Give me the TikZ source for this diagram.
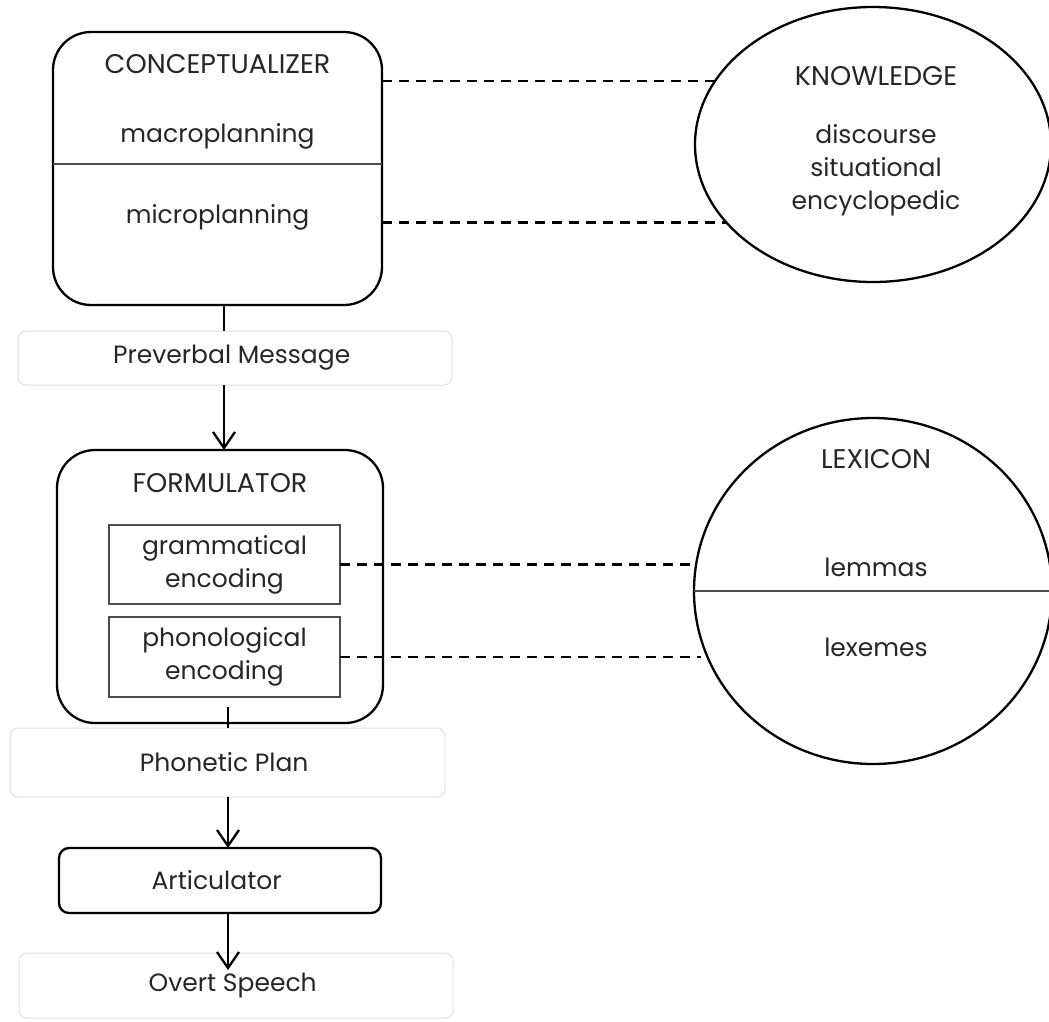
\documentclass[tikz,border=0pt]{standalone}
\usepackage{fontspec}
\setmainfont{Poppins}
\usetikzlibrary{shapes.geometric, arrows.meta}

\begin{document}
\begin{tikzpicture}[
	x=1pt, y=1pt,
	nodes = {
		align = center,
		inner sep = 0pt,
		outer sep = 0pt,
		text = black!85,
		font = \fontsize{25}{33}\selectfont
	},
	lines/.style={
		line width=2.3pt,
		>={Straight Barb[length=16pt,width=22pt]}
	},
	links/.style={
		line width=2.3pt,
		dash pattern=on 10pt off 7pt
	},
	divider/.style={
		line width=1.2pt,
		draw=black!70
	},
	stage/.style={
		rectangle,
		draw=black,
		line width=2.3pt,
		rounded corners=38pt
	},
	store/.style={
		ellipse,
		draw=black,
		line width=2.3pt
	},
	part/.style={
		rectangle,
		draw=black!70,
		line width=1.2pt
	},
	stream/.style={
		rectangle,
		draw=black!12,
		line width=1pt,
		rounded corners=8pt
	},
	label/.style={
		anchor=base
	},
	title/.style={
		anchor=base,
		font=\fontsize{27}{33}\selectfont
	}
]
	\useasboundingbox (0,0) rectangle (1049,-1021);

	\node[stage, minimum width=329, minimum height=273] (concept) at (217.5,-168.5) {};
	\node[title] (concept_title) at (217.5,-73) {CONCEPTUALIZER};
	\node[label] (macro) at (217.5,-142) {macroplanning};
	\node[label] (micro) at (217.5,-223) {microplanning};

	\node[store, minimum width=356, minimum height=275] (knowledge) at (873,-144.5) {};
	\node[title] (knowledge_title) at (876,-85) {KNOWLEDGE};
	\node (knowledge_kinds) at (876,-170) {
		discourse\\
		situational\\
		encyclopedic
	};

	\node[stream, minimum width=434, minimum height=54] (preverbal) at (235,-358) {
		Preverbal Message
	};
	%%
	\node[stage, minimum width=326, minimum height=273] (formulator) at (220,-586.5) {};
	\node[title] (formulator_title) at (220,-492) {FORMULATOR};

	\node[part, minimum width=231, minimum height=79] (gram) at (224.5,-564.5) {
		grammatical\\
		encoding
	};

	\node[part, minimum width=231, minimum height=80] (phono) at (224.5,-657) {
		phonological\\
		encoding
	};

	\node[store, minimum width=358, minimum height=346] (lexicon) at (873,-591) {};
	\node[title] (lexicon_title) at (876,-468) {LEXICON};
	\node[label] (lemmas) at (876,-576) {lemmas};
	\node[label] (lexemes) at (876,-656) {lexemes};

	\node[stream, minimum width=435, minimum height=69] (phonetic) at (227.5,-762.5) {
		Phonetic Plan
	};

	\node[stage, rounded corners=10pt, minimum width=322, minimum height=65] (artic) at (220,-880.5) {
		Articulator
	};

	\node[stream, minimum width=434, minimum height=65] (speech) at (236,-985.5) {
		Overt Speech
	};

	\draw[divider] ([yshift=4.5pt]concept.west) -- ([yshift=4.5pt]concept.east);
	\draw[divider] (lexicon.west) -- (lexicon.east);

	\draw[links] (concept.east |- knowledge.158) -- (knowledge.158);
	\draw[links] (concept.east |- knowledge.208) -- (knowledge.208);
	\draw[links] (gram.east) -- (gram.east -| lexicon.174);
	\draw[links] (phono.east) -- (phono.east -| lexicon.196);

	\draw[lines] ([xshift=6.5pt]concept.south) -- ([xshift=6.5pt]concept.south |- preverbal.north);
	\draw[lines,->] ([xshift=-11pt]preverbal.south) -- ([xshift=-11pt]preverbal.south |- formulator.north);
	\draw[lines] ([xshift=8pt,yshift=16pt]formulator.south) -- ([xshift=8pt]formulator.south |- phonetic.north);
	\draw[lines,->] ([xshift=0.5pt]phonetic.south) -- ([xshift=0.5pt]phonetic.south |- artic.north);
	\draw[lines,->,shorten >=-17pt] ([xshift=8pt]artic.south) -- ([xshift=8pt]artic.south |- speech.north);
\end{tikzpicture}
\end{document}
